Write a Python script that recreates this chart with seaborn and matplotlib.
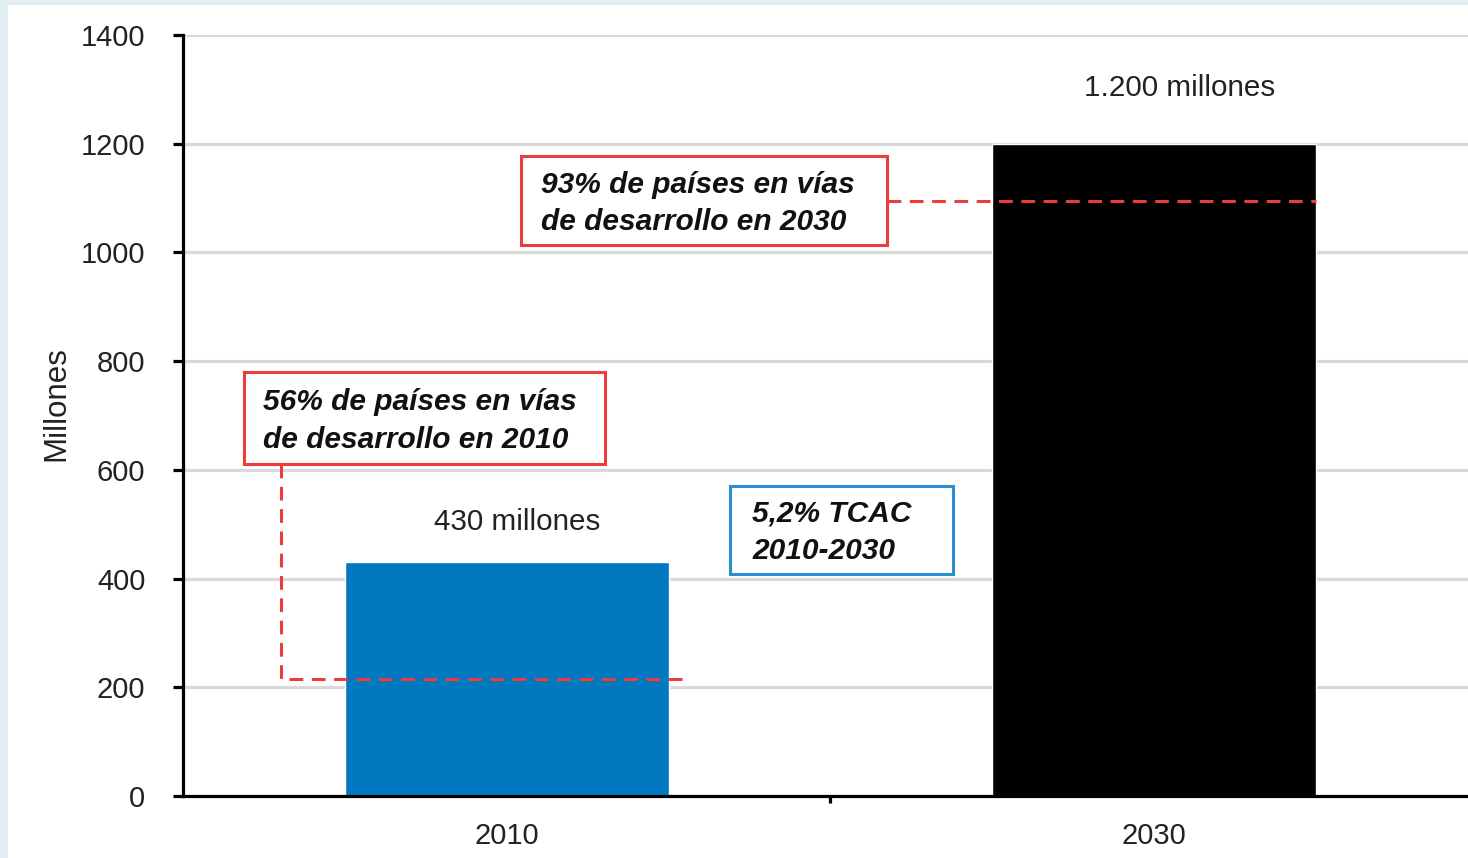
import matplotlib
matplotlib.use("Agg")
import matplotlib.pyplot as plt
import seaborn as sns
import pandas as pd
from matplotlib.patches import Rectangle
from matplotlib.ticker import FixedLocator

# ---- data ----
years = ["2010", "2030"]
values = [430, 1200]
bar_colors = ["#0079c1", "#000000"]
value_labels = ["430 millones", "1.200 millones"]
y_ticks = [0, 200, 400, 600, 800, 1000, 1200, 1400]
share_2010_level = 215
share_2030_level = 1095
note_2010 = "56% de países en vías\nde desarrollo en 2010"
note_2030 = "93% de países en vías\nde desarrollo en 2030"
note_cagr = "5,2% TCAC\n2010-2030"
y_label = "Millones"

df = pd.DataFrame({"year": years, "value": values})

sns.set_theme(style="white")
plt.rcParams["font.family"] = ["Liberation Sans", "DejaVu Sans"]

fig = plt.figure(figsize=(14.68, 8.58), dpi=100)
fig.patch.set_facecolor("#e3eef2")
fig.patches.append(Rectangle((8 / 1468, 0), 1, 1 - 5 / 858, transform=fig.transFigure,
                             facecolor="white", edgecolor="none", zorder=-10))
ax = fig.add_axes([183 / 1468, 1 - 796 / 858, 1 - 183 / 1468, (796 - 35) / 858])
ax.set_facecolor("none")
ax.set_zorder(1)

sns.barplot(data=df, x="year", y="value", hue="year", palette=bar_colors,
            width=0.5, ax=ax, legend=False, saturation=1)

ax.set_xlim(-0.5, 1.485)
ax.set_ylim(0, 1400)
ax.set_yticks(y_ticks)
ax.set_yticklabels([str(t) for t in y_ticks])
ax.yaxis.grid(True, color="#d9d9d9", linewidth=2.3)
ax.set_axisbelow(True)

for s in ["top", "right"]:
    ax.spines[s].set_visible(False)
for s in ["left", "bottom"]:
    ax.spines[s].set_color("black")
    ax.spines[s].set_linewidth(2.3)

ax.tick_params(axis="y", length=7, width=2.3, color="black", pad=20,
               labelsize=21, labelcolor="#222222", left=True)
ax.tick_params(axis="x", which="major", length=0, pad=19, labelsize=21, labelcolor="#222222")
ax.xaxis.set_minor_locator(FixedLocator([0.5]))
ax.tick_params(axis="x", which="minor", length=5, width=2.3, color="black", bottom=True)

ax.set_xlabel("")
ax.set_ylabel(y_label, fontsize=22.5, color="#222222")
ax.yaxis.set_label_coords(-0.087, 0.516)

# value labels
ax.text(0.017, values[0] + 74, value_labels[0], ha="center", va="center",
        fontsize=21.3, color="#222222")
ax.text(1.039, values[1] + 103, value_labels[1], ha="center", va="center",
        fontsize=21.3, color="#222222")

# dashed reference lines
red = "#ee3b3b"
blue_edge = "#2a8fd0"
dash = dict(color=red, linewidth=2.2, linestyle=(0, (4.5, 2.8)), zorder=3)
ax.plot([-0.348, -0.348, 0.275], [611, share_2010_level, share_2010_level], **dash)
ax.plot([0.587, 1.25], [share_2030_level, share_2030_level], **dash)

# annotation boxes (frames, then text)
def frame(x0, x1, y0, y1, color):
    ax.add_patch(Rectangle((x0, y0), x1 - x0, y1 - y0, facecolor="white",
                           edgecolor=color, linewidth=2.2, zorder=4, clip_on=False))

frame(0.0216, 0.587, 1014, 1178, red)
frame(-0.405, 0.1515, 611, 780, red)
frame(0.3447, 0.6893, 408, 570, blue_edge)

box_font = dict(fontsize=21.5, fontweight="bold", fontstyle="italic", color="#111111",
                ha="left", va="center", linespacing=1.45, zorder=5)
ax.text(0.053, 1090, note_2030, **box_font)
ax.text(-0.377, 690, note_2010, **box_font)
ax.text(0.379, 485, note_cagr, **box_font)

fig.savefig("out.png", dpi=100, facecolor=fig.get_facecolor())
